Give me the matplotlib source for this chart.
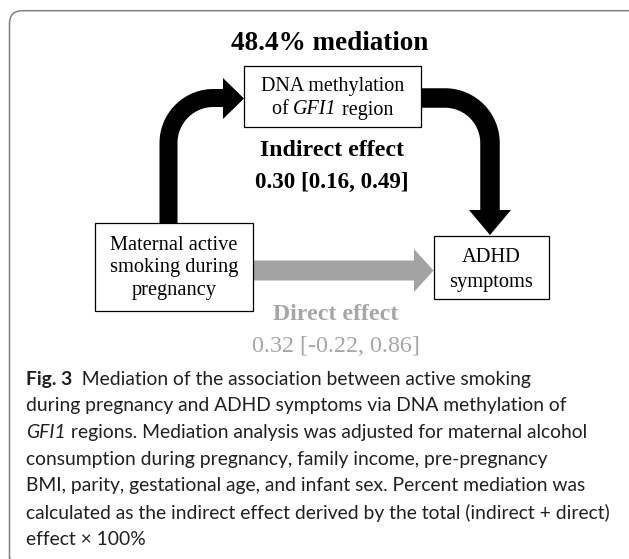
import numpy as np
import matplotlib
matplotlib.use('Agg')
import matplotlib.pyplot as plt
from matplotlib.patches import Rectangle, Polygon, FancyBboxPatch

SERIF = 'Liberation Serif'
SANS = 'Lato'
GRAY = '#a6a6a6'

# values shown in the figure
pct_mediation = 48.4
indirect = (0.30, 0.16, 0.49)   # estimate, lower, upper
direct = (0.32, -0.22, 0.86)

exposure_lines = ['Maternal active', 'smoking during', 'pregnancy']
outcome_lines = ['ADHD', 'symptoms']
mediator_lines = [
    [('DNA methylation', 'normal')],
    [('of ', 'normal'), ('GFI1', 'italic'), (' region', 'normal')],
]
caption_lines = [
    [('Fig. 3', 'bold'), ('  Mediation of the association between active smoking', 'normal')],
    [('during pregnancy and ADHD symptoms via DNA methylation of', 'normal')],
    [('GFI1', 'italic'), (' regions. Mediation analysis was adjusted for maternal alcohol', 'normal')],
    [('consumption during pregnancy, family income, pre-pregnancy', 'normal')],
    [('BMI, parity, gestational age, and infant sex. Percent mediation was', 'normal')],
    [('calculated as the indirect effect derived by the total (indirect + direct)', 'normal')],
    [('effect \u00d7 100%', 'normal')],
]

fig = plt.figure(figsize=(6.29, 5.59), dpi=100)
ax = fig.add_axes([0, 0, 1, 1])
ax.set_xlim(0, 629)
ax.set_ylim(559, 0)
ax.axis('off')
renderer = fig.canvas.get_renderer()


def style_kw(style):
    if style == 'bold':
        return dict(fontweight='bold')
    if style == 'italic':
        return dict(fontstyle='italic')
    return {}


def run_width(s, **kw):
    t = ax.text(0, 0, s + '|', **kw)
    w1 = t.get_window_extent(renderer).width
    t.remove()
    t = ax.text(0, 0, '|', **kw)
    w2 = t.get_window_extent(renderer).width
    t.remove()
    return w1 - w2


def draw_runs(x, y, runs, family, size, ha='center', color='black'):
    widths = [run_width(s, family=family, fontsize=size, **style_kw(st)) for s, st in runs]
    x0 = x - sum(widths) / 2 if ha == 'center' else x
    for (s, st), w in zip(runs, widths):
        ax.text(x0, y, s, ha='left', va='center', family=family, fontsize=size,
                color=color, **style_kw(st))
        x0 += w


# outer frame (only top/left edges fall inside the image)
ax.add_patch(FancyBboxPatch((9.5, 10.7), 700, 560.5,
                            boxstyle='round,pad=0,rounding_size=13',
                            fc='none', ec='#7f7f7f', lw=1.1))

# boxes
box_lw = 0.9
ax.add_patch(Rectangle((244, 66), 177, 61, fc='white', ec='black', lw=box_lw, zorder=3))
ax.add_patch(Rectangle((95, 223), 158, 88, fc='white', ec='black', lw=box_lw, zorder=3))
ax.add_patch(Rectangle((434, 236), 115, 63, fc='white', ec='black', lw=box_lw, zorder=3))

# black curved arrow: exposure -> mediator
R = 45
a = np.linspace(np.pi, 1.5 * np.pi, 40)
xs = np.concatenate([[168.5], 168.5 + R + R * np.cos(a), [224]])
ys = np.concatenate([[223], 98 + R + R * np.sin(a), [98]])
ax.plot(xs, ys, color='black', lw=18 * 0.72, solid_capstyle='butt',
        solid_joinstyle='round', zorder=2)
ax.add_patch(Polygon([(223, 78), (223, 119), (244, 98.5)], closed=True,
                     fc='black', ec='none', zorder=2))

# black curved arrow: mediator -> outcome
a = np.linspace(1.5 * np.pi, 2 * np.pi, 40)
xs = np.concatenate([[421], 490 - R + R * np.cos(a), [490]])
ys = np.concatenate([[98], 98 + R + R * np.sin(a), [211]])
ax.plot(xs, ys, color='black', lw=19.5 * 0.72, solid_capstyle='butt',
        solid_joinstyle='round', zorder=2)
ax.add_patch(Polygon([(469, 210), (511, 210), (490, 235)], closed=True,
                     fc='black', ec='none', zorder=2))

# gray straight arrow: exposure -> outcome
ax.add_patch(Polygon([(253, 260.5), (414, 260.5), (414, 249), (433.5, 270.5),
                      (414, 292), (414, 280.5), (253, 280.5)], closed=True,
                     fc='#a3a3a3', ec='none', zorder=2))

# texts
ax.text(330, 43, f'{pct_mediation:.1f}% mediation', ha='center', va='center',
        family=SERIF, fontsize=19.5, fontweight='bold')
for i, runs in enumerate(mediator_lines):
    draw_runs(332.5, 86 + i * 24, runs, SERIF, 14.5)
for i, s in enumerate(exposure_lines):
    ax.text(174, 245 + i * 22.5, s, ha='center', va='center', family=SERIF,
            fontsize=14.7, zorder=4)
for i, s in enumerate(outcome_lines):
    ax.text(491.5, 258 + i * 24, s, ha='center', va='center', family=SERIF,
            fontsize=14.7, zorder=4)

ax.text(332, 150, 'Indirect effect', ha='center', va='center', family=SERIF,
        fontsize=17.2, fontweight='bold')
ax.text(332, 182, f'{indirect[0]:.2f} [{indirect[1]:.2f}, {indirect[2]:.2f}]',
        ha='center', va='center', family=SERIF, fontsize=16.6, fontweight='bold')
ax.text(336, 315, 'Direct effect', ha='center', va='center', family=SERIF,
        fontsize=17.2, fontweight='bold', color=GRAY)
ax.text(336, 346, f'{direct[0]:.2f} [{direct[1]:.2f}, {direct[2]:.2f}]',
        ha='center', va='center', family=SERIF, fontsize=17.3, color=GRAY)

# caption: fit font size so the widest line spans the same width
ref = 10
widest = max(sum(run_width(s, family=SANS, fontsize=ref, **style_kw(st)) for s, st in runs)
             for runs in caption_lines)
cap_size = ref * 587 / widest
for i, runs in enumerate(caption_lines):
    draw_runs(26, 379 + i * 26.7, runs, SANS, cap_size, ha='left', color='#231f20')

fig.savefig('out.png', dpi=100)
